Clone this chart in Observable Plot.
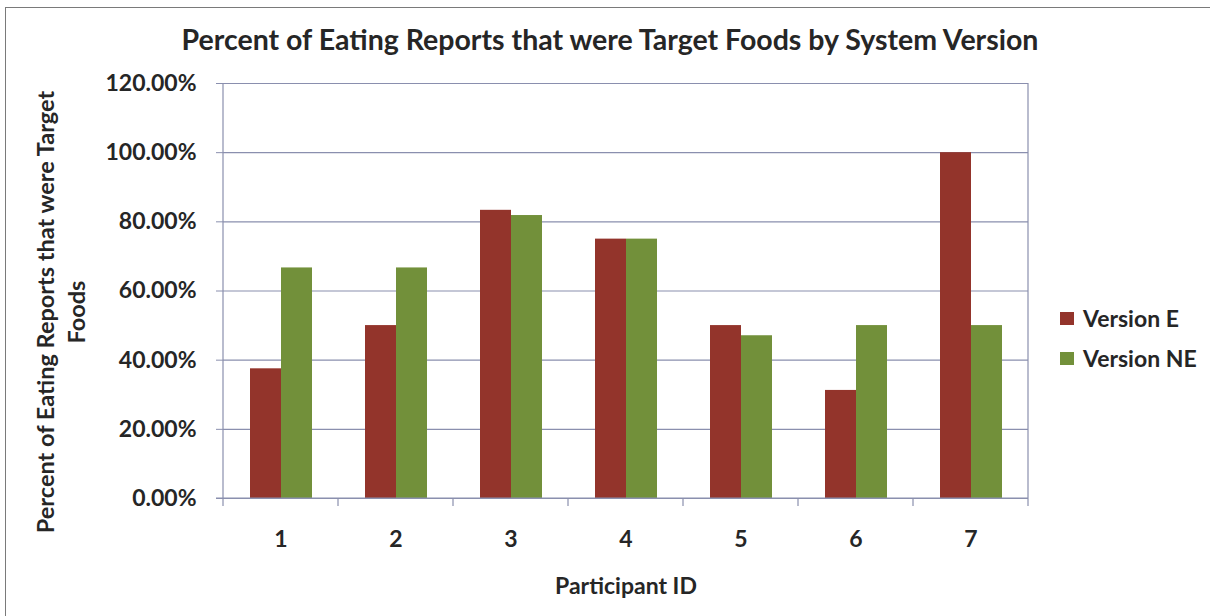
<!DOCTYPE html>
<html>
<head>
<meta charset="utf-8">
<script src="https://cdn.jsdelivr.net/npm/d3@7"></script>
<script src="https://cdn.jsdelivr.net/npm/@observablehq/plot@0.6"></script>
<style>
  html, body { margin: 0; padding: 0; background: #fff; }
  #wrap { position: relative; width: 1210px; height: 616px; overflow: hidden; font-family: Lato, "Open Sans", sans-serif; color: #262626; }
  #title { position: absolute; left: 0; width: 1220px; top: 22px; text-align: center; font-weight: bold; font-size: 28.5px; }
  #ytitle { position: absolute; left: 61px; top: 312px; width: 560px; transform: translate(-50%, -50%) rotate(-90deg); text-align: center; font-weight: bold; font-size: 23.5px; line-height: 31px; }
  #legend { position: absolute; left: 1060px; top: 298px; font-weight: bold; font-size: 23px; }
  #legend div { display: flex; align-items: center; height: 40px; }
  #legend span.sw { display: inline-block; width: 14px; height: 13px; margin-right: 9px; }
  #border { position: absolute; left: 5px; top: 7px; width: 1220px; height: 700px; border-left: 1.5px solid #7a7a7a; border-top: 1.5px solid #7a7a7a; }
</style>
</head>
<body>
<div id="wrap">
  <div id="border"></div>
  <div id="title">Percent of Eating Reports that were Target Foods by System Version</div>
  <div id="ytitle">Percent of Eating Reports that were Target<br>Foods</div>
  <div id="legend"></div>
</div>
<script>
// ---- data ----
const participants = ["1", "2", "3", "4", "5", "6", "7"];
const versions = ["Version E", "Version NE"];
const versionE = [37.5, 50, 83.33, 75, 50, 31.25, 100];
const versionNE = [66.67, 66.67, 81.82, 75, 47.06, 50, 50];
const yTicks = [0, 20, 40, 60, 80, 100, 120];
const colors = ["#93342b", "#72903a"];

const table = participants.flatMap((p, i) => [
  {participant: p, version: versions[0], value: versionE[i]},
  {participant: p, version: versions[1], value: versionNE[i]}
]);

const gridColor = "#8a8fae";

const chart = Plot.plot({
  width: 1210,
  height: 616,
  marginLeft: 220,
  marginRight: 180,
  marginTop: 83,
  marginBottom: 118,
  style: {fontFamily: "Lato, 'Open Sans', sans-serif", fontSize: "23px", fontWeight: "bold", color: "#262626", background: "transparent"},
  fx: {domain: participants, padding: 0, label: null, axis: null},
  x: {domain: versions, paddingInner: 0, paddingOuter: 0.8, axis: null},
  y: {domain: [0, 120], label: null},
  color: {domain: versions, range: colors},
  marks: [
    Plot.gridY(yTicks, {stroke: gridColor, strokeOpacity: 1, strokeWidth: 1.2}),
    Plot.barY(table, {fx: "participant", x: "version", y: "value", fill: "version", inset: 0}),
    Plot.axisY(yTicks, {tickSize: 7, tickPadding: 20, stroke: gridColor, fontSize: 23, tickFormat: d => d.toFixed(2) + "%", label: null}),
    Plot.axisFx({anchor: "bottom", tickSize: 0, tickPadding: 32, fontSize: 23, label: "Participant ID", labelAnchor: "center", labelOffset: 95})
  ]
});

document.getElementById("wrap").appendChild(chart);
chart.style.position = "absolute";
chart.style.left = "0px";
chart.style.top = "0px";

// Excel-style axis lines, boundary ticks and plot border drawn with the library's scales
const fx = chart.scale("fx");
const y = chart.scale("y");
const svg = d3.select(chart.tagName === "svg" ? chart : chart.querySelector("svg"));
const g = svg.append("g").attr("stroke", gridColor).attr("stroke-width", 1.2).attr("fill", "none");
const left = fx.apply(participants[0]);
const right = fx.apply(participants[participants.length - 1]) + fx.bandwidth;
const y0 = y.apply(0), yTop = y.apply(120);
g.append("line").attr("x1", left).attr("x2", left).attr("y1", yTop).attr("y2", y0);
g.append("line").attr("x1", right).attr("x2", right).attr("y1", yTop).attr("y2", y0);
g.append("line").attr("x1", left - 7).attr("x2", right).attr("y1", y0).attr("y2", y0);
participants.forEach(p => {
  const x0 = fx.apply(p);
  g.append("line").attr("x1", x0).attr("x2", x0).attr("y1", y0).attr("y2", y0 + 8);
});
g.append("line").attr("x1", right).attr("x2", right).attr("y1", y0).attr("y2", y0 + 8);

// legend
const legend = document.getElementById("legend");
versions.forEach((v, i) => {
  const row = document.createElement("div");
  row.innerHTML = `<span class="sw" style="background:${colors[i]}"></span>${v}`;
  legend.appendChild(row);
});
</script>
</body>
</html>
